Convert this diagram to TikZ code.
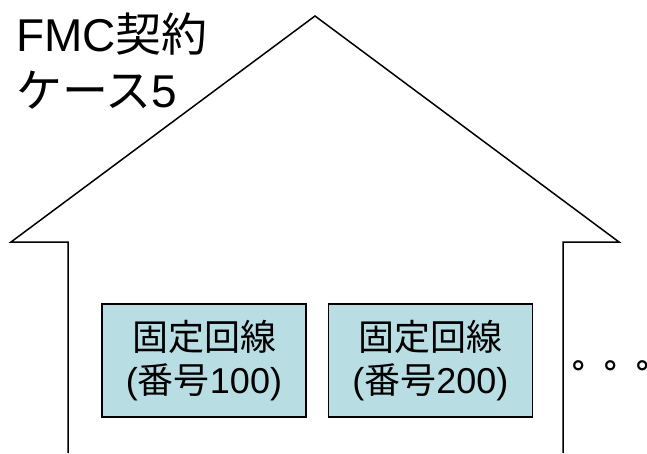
\documentclass[tikz,border=0pt]{standalone}
\usepackage{fontspec}
\setmainfont{Liberation Sans}
\newfontfamily\jp{Noto Sans CJK JP}
\newfontfamily\jpbold{Noto Sans CJK JP Bold}
\usepackage{xcolor}
\usetikzlibrary{positioning}
\definecolor{linecyan}{RGB}{184,222,228}

\begin{document}
\begin{tikzpicture}[
        x=1pt, y=-1pt,
        house/.style={draw, line width=1.5pt, line join=miter},
        linebox/.style={draw, line width=1.3pt, fill=linecyan, rectangle, align=center,
            minimum width=204pt, minimum height=113pt, inner sep=0pt,
            font=\fontsize{36}{43}\selectfont},
        every node/.style={text=black}
    ]
        \useasboundingbox (0,0) rectangle (647,453);
        % house outline
        \coordinate (apex) at (315,16);
        \coordinate (eaveL) at (11,242);
        \coordinate (eaveR) at (619,242);
        \coordinate (wallL) at (68,242);
        \coordinate (wallR) at (563,242);
        \draw[house] (68,453) -- (wallL) -- (eaveL) -- (apex) -- (eaveR) -- (wallR) -- (563,453);
        % title
        \node[anchor=north west, inner sep=0pt, align=left,
            font=\fontsize{46}{56}\selectfont] (title) at (16,13) {FMC{\jp 契約}\\{\jp ケース}5};
        % lines
        \node[linebox] (line1) at (204,360.5) {{\jp 固定回線}\\({\jp 番号}100)};
        \node[linebox, right=21pt of line1] (line2) {{\jp 固定回線}\\({\jp 番号}200)};
        \node[anchor=base west, inner sep=0pt, font=\fontsize{32}{32}\selectfont] (more) at (572,368) {\jpbold 。。\makebox[9pt][l]{。}};
    \end{tikzpicture}
\end{document}
